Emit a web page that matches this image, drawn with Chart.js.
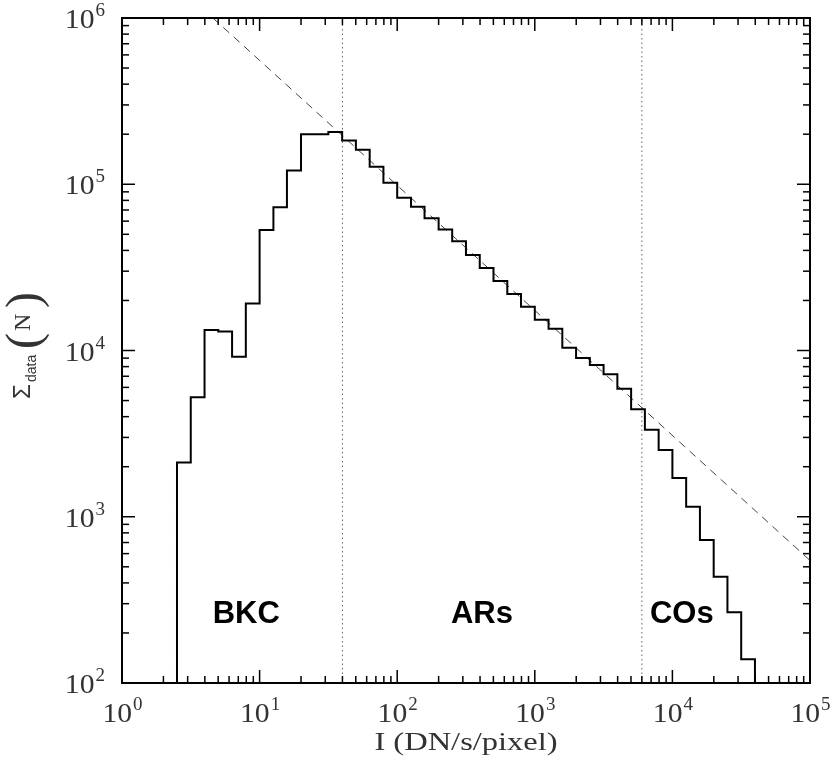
<!DOCTYPE html>
<html>
<head>
<meta charset="utf-8">
<script src="https://cdn.jsdelivr.net/npm/chart.js@4"></script>
<style>
  html, body { margin: 0; padding: 0; background: #fff; }
  canvas { display: block; }
</style>
</head>
<body>
<canvas id="histChart" width="832" height="757"></canvas>
<script>
// bin edges (DN/s/pixel) and counts per bin
const binEdges = [2.51, 3.16, 3.98, 5.01, 6.31, 7.94, 10, 12.6, 15.8, 20.0, 25.1, 31.6, 39.8, 50.1, 63.1, 79.4,
  100, 126, 158, 200, 251, 316, 398, 501, 631, 794, 1000, 1259, 1585, 1995, 2512, 3162, 3981, 5012, 6310, 7943,
  10000, 12589, 15849, 19953, 25119, 31623, 39811];
const binCounts = [2120, 5230, 13300, 13000, 9180, 19200, 53000, 72600, 120800, 200000,
  200000, 206000, 183000, 161000, 127600, 102000, 83000, 73300, 62400, 53500,
  45400, 37500, 31300, 26200, 21900, 18300, 15300, 13500, 10400, 9010,
  8180, 7190, 5890, 4430, 3340, 2520, 1710, 1150, 724, 436, 266, 139];

// power-law fit (dashed)
const fitX = [4.58, 100000];
const fitY = [1000000, 546];

// region boundaries and names
const boundaries = [40, 6000];
const regionNames = ['BKC', 'ARs', 'COs'];
const regionX = [8, 413, 11700];

// axis ticks
const xMajor = [1, 10, 100, 1000, 10000, 100000];
const xExp = ['0', '1', '2', '3', '4', '5'];
const yMajor = [100, 1000, 10000, 100000, 1000000];
const yExp = ['2', '3', '4', '5', '6'];
const minorMult = [2, 3, 4, 5, 6, 7, 8, 9];

// step outline points: each point is the right edge of a bin at that bin's height
const histPts = [{ x: binEdges[0], y: 10 }];
binCounts.forEach((c, i) => histPts.push({ x: binEdges[i + 1], y: c }));
histPts.push({ x: binEdges[binEdges.length - 1], y: 10 });

const serif = '"Liberation Serif", "DejaVu Serif", serif';
const sans = '"Liberation Sans", Arial, sans-serif';

const framePlugin = {
  id: 'frame',
  afterDraw(chart) {
    const ctx = chart.ctx;
    const xs = chart.scales.x, ys = chart.scales.y;
    const a = chart.chartArea;
    ctx.save();
    ctx.strokeStyle = '#000';

    // ticks
    ctx.lineWidth = 1.5;
    const tick = (x1, y1, x2, y2) => { ctx.beginPath(); ctx.moveTo(x1, y1); ctx.lineTo(x2, y2); ctx.stroke(); };
    xMajor.forEach((d, i) => {
      const px = xs.getPixelForValue(d);
      tick(px, a.bottom, px, a.bottom - 13);
      tick(px, a.top, px, a.top + 13);
      if (i < xMajor.length - 1) {
        minorMult.forEach(m => {
          const p = xs.getPixelForValue(d * m);
          tick(p, a.bottom, p, a.bottom - 7);
          tick(p, a.top, p, a.top + 7);
        });
      }
    });
    yMajor.forEach((d, i) => {
      const py = ys.getPixelForValue(d);
      tick(a.left, py, a.left + 13, py);
      tick(a.right, py, a.right - 13, py);
      if (i < yMajor.length - 1) {
        minorMult.forEach(m => {
          const p = ys.getPixelForValue(d * m);
          tick(a.left, p, a.left + 7, p);
          tick(a.right, p, a.right - 7, p);
        });
      }
    });

    // frame
    ctx.lineWidth = 2;
    ctx.strokeRect(a.left, a.top, a.right - a.left, a.bottom - a.top);

    // tick labels
    ctx.fillStyle = '#333';
    ctx.textBaseline = 'alphabetic';
    const power = (x, y, exp, align) => {
      ctx.font = '27px ' + serif;
      const w1 = ctx.measureText('10').width * 1.1;
      ctx.font = '19px ' + serif;
      const w2 = ctx.measureText(exp).width;
      let x0 = align === 'center' ? x - (w1 + w2) / 2 : x - (w1 + w2);
      ctx.save();
      ctx.translate(x0, y);
      ctx.scale(1.1, 1);
      ctx.font = '27px ' + serif;
      ctx.textAlign = 'left';
      ctx.fillText('10', 0, 0);
      ctx.restore();
      ctx.font = '19px ' + serif;
      ctx.textAlign = 'left';
      ctx.fillText(exp, x0 + w1 + 1, y - 12);
    };
    xMajor.forEach((d, i) => power(xs.getPixelForValue(d), a.bottom + 39, xExp[i], 'center'));
    yMajor.forEach((d, i) => power(a.left - 18, ys.getPixelForValue(d) + 10, yExp[i], 'right'));

    // x title
    ctx.save();
    ctx.translate((a.left + a.right) / 2, a.bottom + 67);
    ctx.scale(1.25, 1);
    ctx.font = '26px ' + serif;
    ctx.textAlign = 'center';
    ctx.fillText('I (DN/s/pixel)', 0, 0);
    ctx.restore();

    // y title
    ctx.save();
    ctx.translate(30, 345);
    ctx.rotate(-Math.PI / 2);
    ctx.textAlign = 'left';
    ctx.font = '24px ' + sans;
    ctx.fillText('\u03A3', -54, 0);
    ctx.font = '14px ' + sans;
    ctx.fillText('data', -37, 6);
    ctx.font = '48px ' + serif;
    ctx.fillText('(', -4, 9);
    ctx.font = '24px ' + serif;
    ctx.fillText('N', 14, 0);
    ctx.font = '48px ' + serif;
    ctx.fillText(')', 37, 9);
    ctx.restore();

    // region names
    ctx.fillStyle = '#000';
    ctx.font = 'bold 31px ' + sans;
    ctx.textAlign = 'center';
    regionNames.forEach((t, i) => ctx.fillText(t, xs.getPixelForValue(regionX[i]), a.bottom - 60));
    ctx.restore();
  }
};

new Chart(document.getElementById('histChart').getContext('2d'), {
  type: 'scatter',
  data: {
    datasets: [
      {
        data: histPts,
        showLine: true,
        stepped: 'after',
        borderColor: '#000',
        borderWidth: 2,
        pointRadius: 0
      },
      {
        data: fitX.map((x, i) => ({ x: x, y: fitY[i] })),
        showLine: true,
        borderColor: '#444',
        borderWidth: 1,
        borderDash: [8, 6],
        pointRadius: 0
      },
      ...boundaries.map(b => ({
        data: [{ x: b, y: 100 }, { x: b, y: 1000000 }],
        showLine: true,
        borderColor: '#666',
        borderWidth: 1,
        borderDash: [1.5, 3],
        pointRadius: 0
      }))
    ]
  },
  options: {
    responsive: false,
    animation: false,
    layout: { padding: { left: 122, right: 22, top: 18, bottom: 74 } },
    plugins: { legend: { display: false }, tooltip: { enabled: false } },
    scales: {
      x: { type: 'logarithmic', min: 1, max: 100000, display: false },
      y: { type: 'logarithmic', min: 100, max: 1000000, display: false }
    }
  },
  plugins: [framePlugin]
});
</script>
</body>
</html>
